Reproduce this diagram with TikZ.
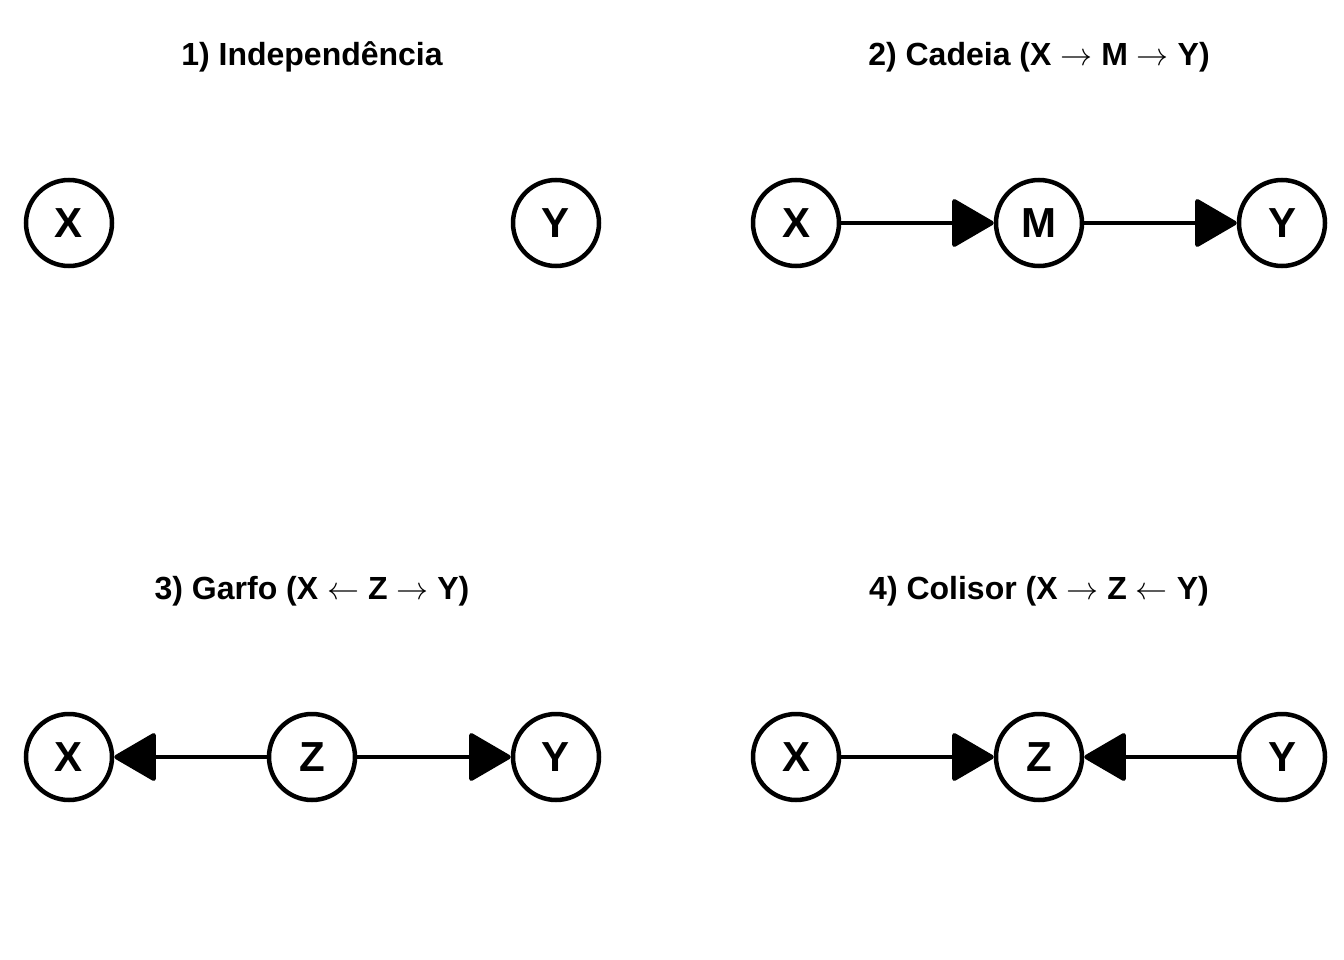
\RequirePackage{fix-cm}
\documentclass[tikz,border=0pt]{standalone}
\usepackage{fontspec}
\setmainfont{Liberation Sans}
\usetikzlibrary{arrows.meta}
\newcommand{\seta}{\ensuremath{\rightarrow}}
\newcommand{\setaesq}{\ensuremath{\leftarrow}}
\tikzset{
  var/.style = {draw, circle, line width = 4.5pt, minimum size = 86pt, inner sep = 0pt,
                font = \fontsize{42}{46}\selectfont\bfseries},
  edge/.style = {line width = 4.5pt, -{Triangle[length = 44pt, width = 50pt, round]}},
  titulo/.style = {font = \fontsize{32}{36}\selectfont\bfseries}
}
\begin{document}
\begin{tikzpicture}[x = 1pt, y = -1pt]
    \useasboundingbox (0, 0) rectangle (1344, 960);
    % 1) independencia
    \node[titulo] (t1) at (312, 57) {1) Independência};
    \node[var] (x1) at (69, 223) {X};
    \node[var] (y1) at (556, 223) {Y};
    % 2) cadeia
    \node[titulo] (t2) at (1039, 57) {2) Cadeia (X \seta{} M \seta{} Y)};
    \node[var] (x2) at (796, 223) {X};
    \node[var] (m2) at (1039, 223) {M};
    \node[var] (y2) at (1282, 223) {Y};
    \draw[edge] (x2) -- (m2);
    \draw[edge] (m2) -- (y2);
    % 3) garfo
    \node[titulo] (t3) at (312, 591) {3) Garfo (X \setaesq{} Z \seta{} Y)};
    \node[var] (x3) at (69, 757) {X};
    \node[var] (z3) at (312, 757) {Z};
    \node[var] (y3) at (556, 757) {Y};
    \draw[edge] (z3) -- (x3);
    \draw[edge] (z3) -- (y3);
    % 4) colisor
    \node[titulo] (t4) at (1039, 591) {4) Colisor (X \seta{} Z \setaesq{} Y)};
    \node[var] (x4) at (796, 757) {X};
    \node[var] (z4) at (1039, 757) {Z};
    \node[var] (y4) at (1282, 757) {Y};
    \draw[edge] (x4) -- (z4);
    \draw[edge] (y4) -- (z4);
\end{tikzpicture}
\end{document}
